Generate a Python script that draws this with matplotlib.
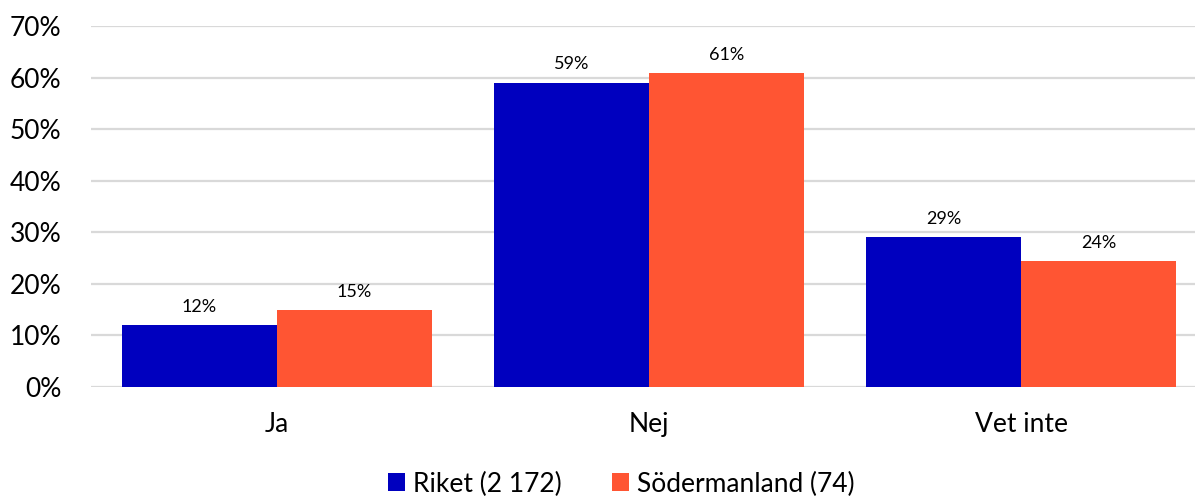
import matplotlib
matplotlib.use("Agg")
import matplotlib.pyplot as plt
import numpy as np

categories = ["Ja", "Nej", "Vet inte"]
series_names = ["Riket (2 172)", "Södermanland (74)"]
riket = [12.0, 59.0, 29.0]
sodermanland = [14.9, 60.8, 24.3]
yticks = [0, 10, 20, 30, 40, 50, 60, 70]
colors = ["#0000BF", "#FF5533"]

plt.rcParams['font.family'] = ['Lato', 'DejaVu Sans']

W, H = 1195, 497
fig = plt.figure(figsize=(W / 100, H / 100), dpi=100)
left_px, right_px, bottom_px, top_px = 90.6, 1195, 110.3, 471
ax = fig.add_axes([left_px / W, bottom_px / H, (right_px - left_px) / W, (top_px - bottom_px) / H])

spacing_px = 372.2
x = np.arange(len(categories))
bw = 0.4165
for i, (vals, name) in enumerate(zip([riket, sodermanland], series_names)):
    pos = x + (i - 0.5) * bw
    bars = ax.bar(pos, vals, width=bw, color=colors[i], label=name, zorder=3, linewidth=0)
    for b, v in zip(bars, vals):
        ax.text(b.get_x() + b.get_width() / 2, v + 2.0, f"{round(v)}%", ha="center", va="bottom",
                fontsize=13, color="#000000")

ax.set_xlim(-0.5, -0.5 + (right_px - left_px) / spacing_px)
ax.set_ylim(0, 70)
ax.set_yticks(yticks)
ax.set_yticklabels([f"{t}%" for t in yticks], fontsize=19)
ax.set_xticks(x)
ax.set_xticklabels(categories, fontsize=19)
ax.tick_params(axis="y", length=0, pad=21)
ax.tick_params(axis="x", length=0, pad=18)
ax.grid(axis="y", color="#D9D9D9", linewidth=1.6, zorder=0)
for s in ax.spines.values():
    s.set_visible(False)

leg = fig.legend(loc="center", bbox_to_anchor=(621 / W, 1 - 484 / H), ncol=2, frameon=False,
                 fontsize=19, handlelength=0.65, handleheight=0.65, handletextpad=0.3, columnspacing=1.9,
                 borderpad=0)

fig.savefig("out.png", dpi=100)
